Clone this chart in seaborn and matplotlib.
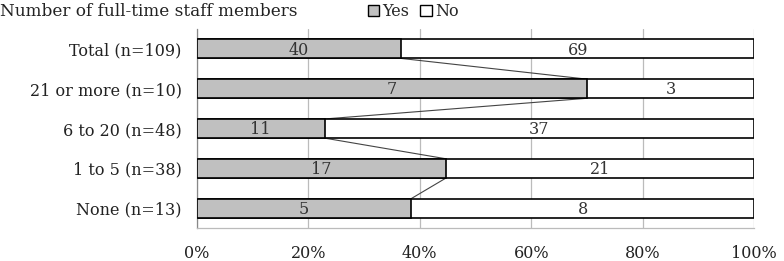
import numpy as np
import pandas as pd
import seaborn as sns
import matplotlib.pyplot as plt
from matplotlib.patches import Patch

# data
groups = ['Total (n=109)', '21 or more (n=10)', '6 to 20 (n=48)', '1 to 5 (n=38)', 'None (n=13)']
yes = [40, 7, 11, 17, 5]
no = [69, 3, 37, 21, 8]

df = pd.DataFrame({'group': groups, 'yes': yes, 'no': no})
df['n'] = df['yes'] + df['no']
df['yes_pct'] = df['yes'] / df['n'] * 100
df['all_pct'] = 100.0

sns.set_style('white')
plt.rcParams['font.family'] = ['DejaVu Serif']

fig = plt.figure(figsize=(7.84, 2.61), dpi=100)
ax = fig.add_axes([0.251, 0.126, 0.711, 0.763])

# white "No" bar underneath, grey "Yes" bar on top
sns.barplot(data=df, x='all_pct', y='group', color='white', edgecolor='black',
            linewidth=1.2, width=0.48, ax=ax, zorder=2)
sns.barplot(data=df, x='yes_pct', y='group', color='#c0c0c0', saturation=1,
            edgecolor='black', linewidth=1.2, width=0.48, ax=ax, zorder=3)

# connector lines between yes segments
h = 0.48 / 2
for i in range(len(df) - 1):
    ax.plot([df['yes_pct'][i], df['yes_pct'][i + 1]], [i + h, i + 1 - h],
            color='#444444', lw=0.8, zorder=1)

# counts
for i, r in df.iterrows():
    ax.text(r['yes_pct'] / 2, i + 0.03, str(r['yes']), ha='center', va='center',
            fontsize=11.5, color='#333333', zorder=4)
    ax.text((r['yes_pct'] + 100) / 2, i + 0.03, str(r['no']), ha='center', va='center',
            fontsize=11.5, color='#333333', zorder=4)

ax.set_xlim(0, 100)
ax.set_ylim(4.5, -0.5)
ax.set_xticks([0, 20, 40, 60, 80, 100])
ax.set_xticklabels([f'{v}%' for v in range(0, 101, 20)], fontsize=11.5, color='#222222')
ax.tick_params(axis='x', length=0, pad=12)
ax.tick_params(axis='y', length=0, pad=11, labelsize=11.5, labelcolor='#222222')
ax.set_yticks(np.arange(-0.5, 4.6, 1.0), minor=True)
ax.tick_params(axis='y', which='minor', direction='in', length=4, color='#888888', width=0.8)
ax.grid(axis='x', color='#bbbbbb', lw=0.9, zorder=0)
ax.set_axisbelow(True)
ax.set_xlabel('')
ax.set_ylabel('')
for s in ['top', 'right']:
    ax.spines[s].set_visible(False)
ax.spines['left'].set_color('#888888')
ax.spines['bottom'].set_color('#bbbbbb')
ax.spines['left'].set_linewidth(0.9)
ax.spines['bottom'].set_linewidth(0.9)

fig.text(0.0, 0.955, 'Number of full-time staff members', fontsize=12.2,
         color='#222222', va='center', ha='left')
handles = [Patch(facecolor='#c0c0c0', edgecolor='black', label='Yes'),
           Patch(facecolor='white', edgecolor='black', label='No')]
fig.legend(handles=handles, loc='center left', bbox_to_anchor=(0.459, 0.955), ncol=2,
           frameon=False, fontsize=11.5, handlelength=0.7, handleheight=0.7,
           handletextpad=0.2, columnspacing=0.7, borderpad=0)

fig.savefig('out.png', dpi=100)
